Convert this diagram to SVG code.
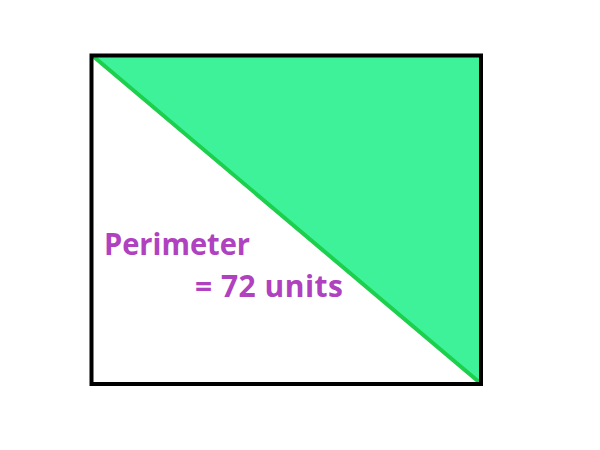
<svg xmlns="http://www.w3.org/2000/svg" width="600" height="450" viewBox="0 0 600 450">
<style>
.lbl{font-family:"Open Sans","Noto Sans","Liberation Sans",sans-serif;font-weight:bold;font-size:30px;fill:#b041bf}
</style>
<rect width="600" height="450" fill="#ffffff"/>
<g id="triangle">
<polygon points="94,57 480,57 480,383" fill="#3ef29a"/>
<line x1="94" y1="57" x2="479" y2="382" stroke="#1ccf4c" stroke-width="4" stroke-linecap="round"/>
</g>
<g id="rectangle">
<rect x="91.5" y="55.5" width="389.5" height="328.5" fill="none" stroke="#000000" stroke-width="4"/>
</g>
<g id="label">
<text class="lbl" x="104" y="255" textLength="146" lengthAdjust="spacingAndGlyphs">Perimeter</text>
<text class="lbl" x="195" y="297" textLength="148" lengthAdjust="spacing">= 72 units</text>
</g>
</svg>
